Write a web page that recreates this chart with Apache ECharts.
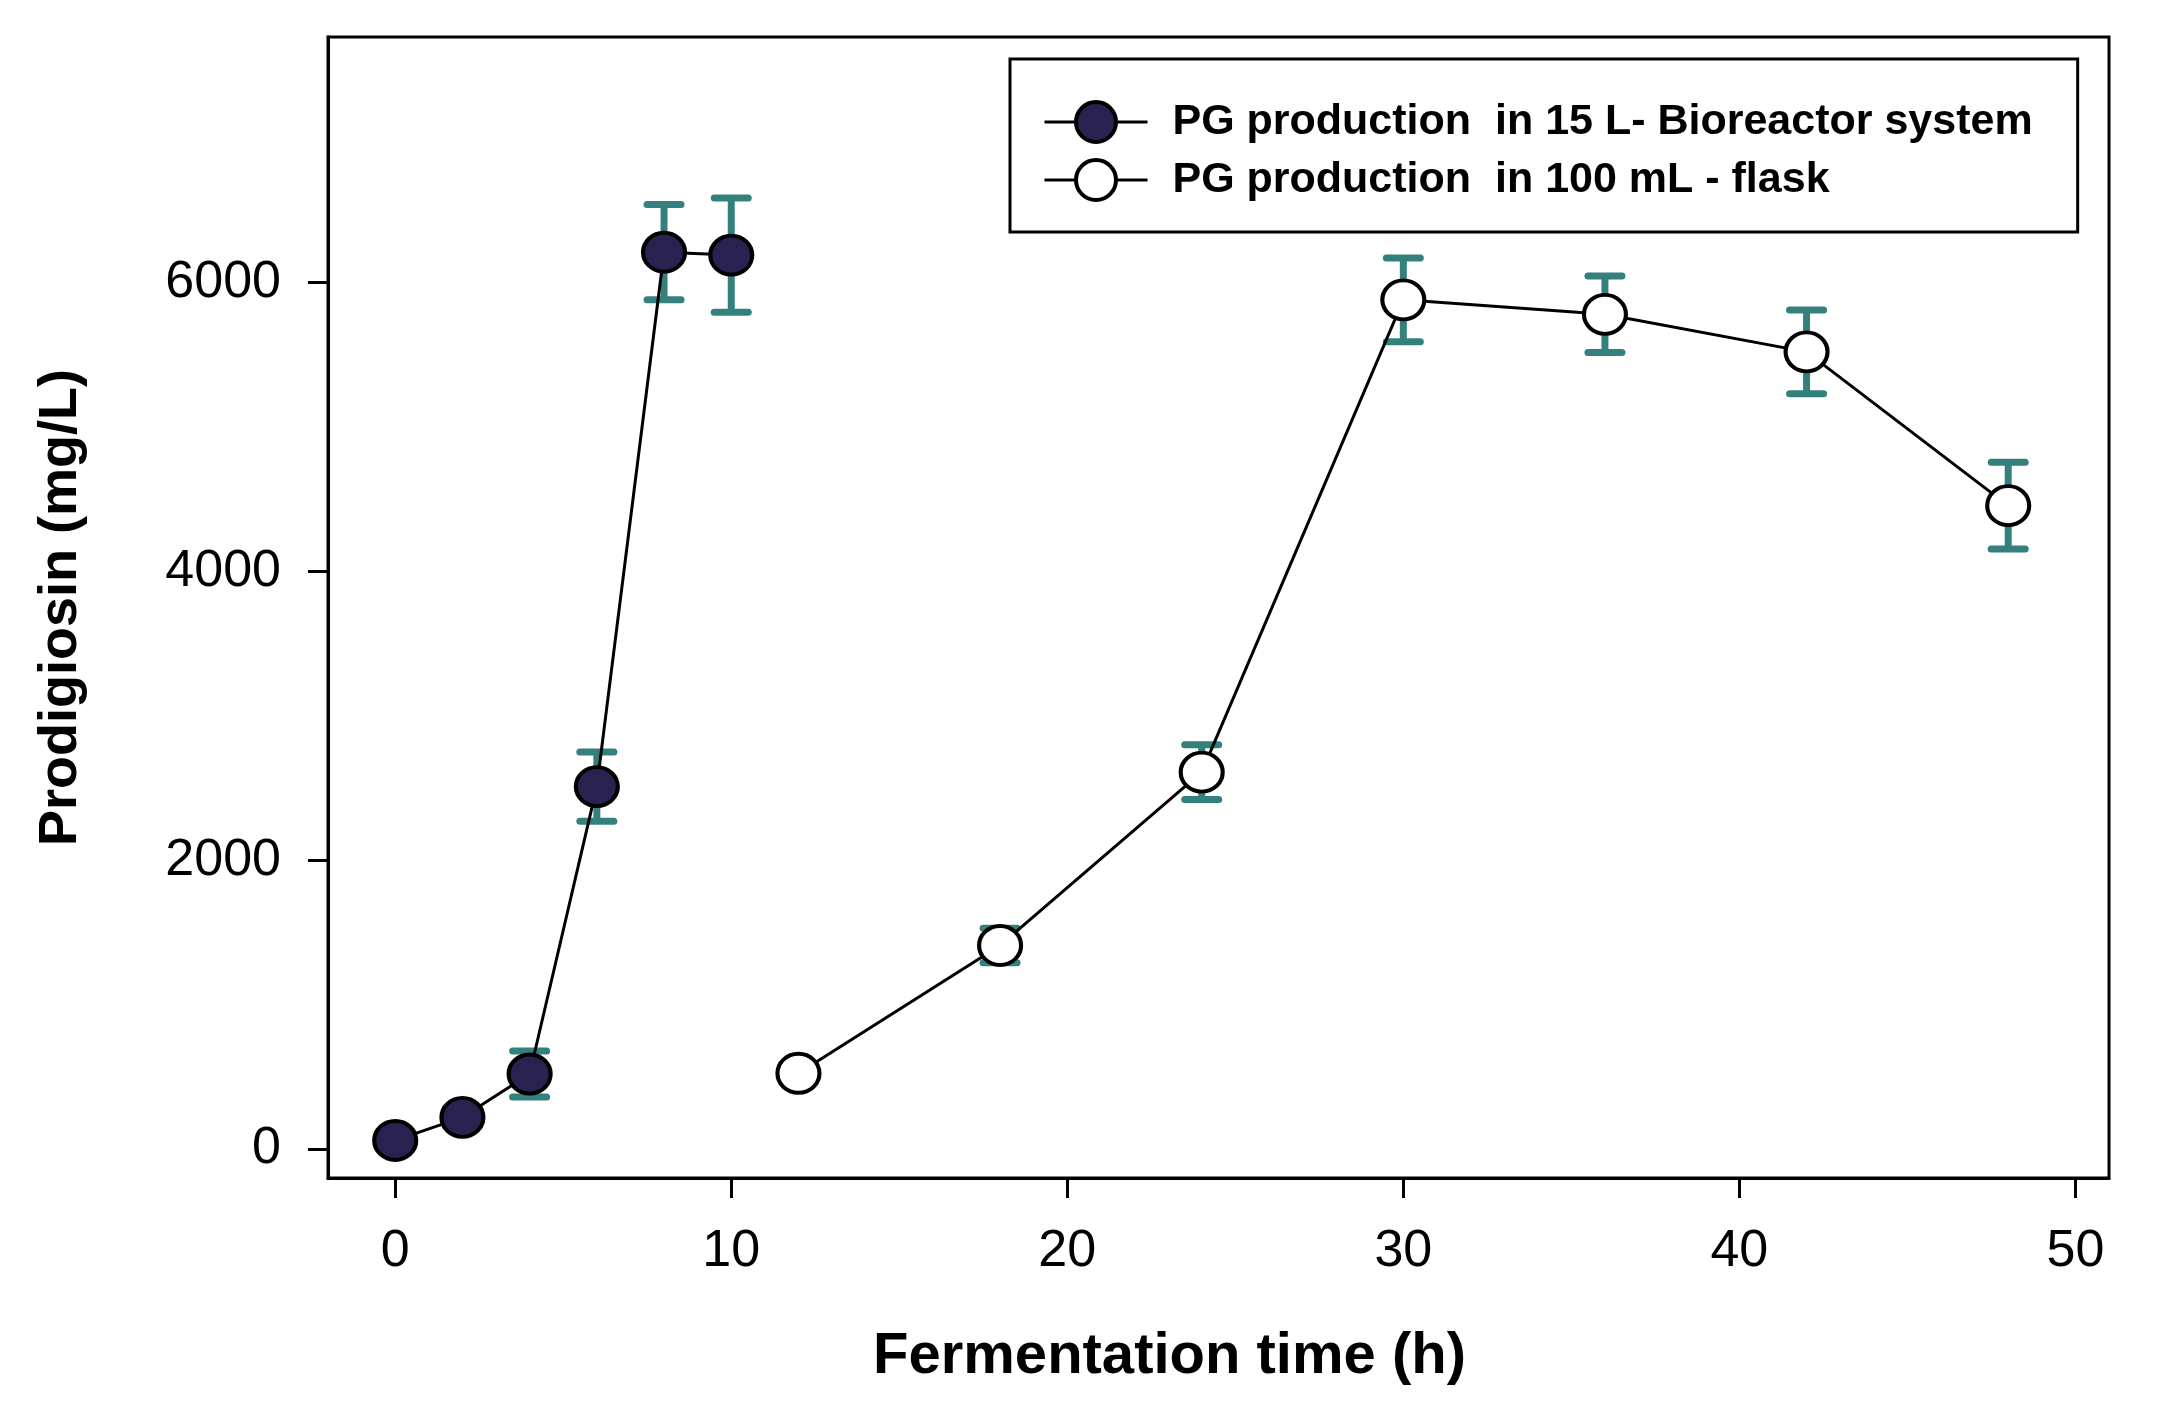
<!DOCTYPE html>
<html>
<head>
<meta charset="utf-8">
<script src="https://cdn.jsdelivr.net/npm/echarts@6/dist/echarts.min.js"></script>
<style>
  html, body { margin: 0; padding: 0; background: #fff; }
  #chart { width: 2160px; height: 1412px; }
</style>
</head>
<body>
<div id="chart"></div>
<script>
// ---- data ----
const seriesNames = ['PG production  in 15 L- Bioreactor system', 'PG production  in 100 mL - flask'];
const xBio = [0, 2, 4, 6, 8, 10];
const yBio = [60, 220, 520, 2510, 6210, 6190];
const errBio = [30, 60, 160, 240, 330, 395];
const xFlask = [12, 18, 24, 30, 36, 42, 48];
const yFlask = [525, 1410, 2610, 5880, 5780, 5520, 4455];
const errFlask = [60, 120, 190, 290, 265, 290, 300];
const xTicks = [0, 10, 20, 30, 40, 50];
const yTicks = [0, 2000, 4000, 6000];
const xTitle = 'Fermentation time (h)';
const yTitle = 'Prodigiosin (mg/L)';

// ---- styles ----
const FONT = "'Liberation Sans', Arial, sans-serif";
const ERR_COLOR = '#34807d';
const BIO_FILL = '#29214f';
const ELLIPSE = 'path://M0,1A1,1,0,1,1,2,1A1,1,0,1,1,0,1Z';

const toPairs = (xs, ys) => xs.map((x, i) => [x, ys[i]]);
const toErr = (xs, ys, es) => xs.map((x, i) => [x, ys[i] - es[i], ys[i] + es[i]]);

function renderErr(params, api) {
  const x = api.value(0), lo = api.value(1), hi = api.value(2);
  const pHi = api.coord([x, hi]);
  const pLo = api.coord([x, lo]);
  const hw = 17;
  const stemStyle = { stroke: ERR_COLOR, lineWidth: 7, lineCap: 'butt' };
  const capStyle = { stroke: ERR_COLOR, lineWidth: 7, lineCap: 'round' };
  return {
    type: 'group',
    children: [
      { type: 'line', shape: { x1: pHi[0], y1: pHi[1], x2: pLo[0], y2: pLo[1] }, style: stemStyle },
      { type: 'line', shape: { x1: pHi[0] - hw, y1: pHi[1], x2: pHi[0] + hw, y2: pHi[1] }, style: capStyle },
      { type: 'line', shape: { x1: pLo[0] - hw, y1: pLo[1], x2: pLo[0] + hw, y2: pLo[1] }, style: capStyle }
    ]
  };
}

const chart = echarts.init(document.getElementById('chart'), null, { renderer: 'canvas' });
chart.setOption({
  animation: false,
  backgroundColor: '#fff',
  textStyle: { fontFamily: FONT, color: '#000' },
  grid: {
    left: 328, right: 51, top: 37, bottom: 234,
    show: true, borderColor: '#000', borderWidth: 3, backgroundColor: 'transparent'
  },
  legend: {
    data: seriesNames,
    orient: 'vertical',
    left: 1010, top: 59,
    padding: [41, 45, 30, 33],
    itemWidth: 103, itemHeight: 50, itemGap: 14,
    borderColor: '#000', borderWidth: 3, backgroundColor: '#fff',
    lineStyle: { width: 3, color: '#000' },
    itemStyle: { borderColor: '#000', borderWidth: 4 },
    textStyle: { fontFamily: FONT, fontSize: 43, fontWeight: 'bold', color: '#000', padding: [0, 0, 0, 20] }
  },
  xAxis: {
    type: 'value', min: -2, max: 51,
    name: xTitle, nameLocation: 'middle', nameGap: 150,
    nameTextStyle: { fontFamily: FONT, fontSize: 58, fontWeight: 'bold', color: '#000', padding: [0, 98, 0, 0] },
    axisLine: { show: true, onZero: false, lineStyle: { color: '#000', width: 3 } },
    axisTick: { show: true, inside: false, length: 20, lineStyle: { color: '#000', width: 3 }, customValues: xTicks },
    axisLabel: { show: true, margin: 48, fontFamily: FONT, fontSize: 52, color: '#000', customValues: xTicks,
      formatter: v => String(v) },
    splitLine: { show: false }
  },
  yAxis: {
    type: 'value', min: -200, max: 7700,
    name: yTitle, nameLocation: 'middle', nameGap: 240,
    nameTextStyle: { fontFamily: FONT, fontSize: 54, fontWeight: 'bold', color: '#000' },
    axisLine: { show: true, onZero: false, lineStyle: { color: '#000', width: 3 } },
    axisTick: { show: true, inside: false, length: 20, lineStyle: { color: '#000', width: 3 }, customValues: yTicks },
    axisLabel: { show: true, margin: 47, fontFamily: FONT, fontSize: 52, color: '#000', customValues: yTicks,
      formatter: v => String(v) },
    splitLine: { show: false }
  },
  series: [
    {
      name: 'errBio', type: 'custom', renderItem: renderErr, z: 1,
      data: toErr(xBio, yBio, errBio), encode: { x: 0, y: [1, 2] }, silent: true
    },
    {
      name: 'errFlask', type: 'custom', renderItem: renderErr, z: 1,
      data: toErr(xFlask, yFlask, errFlask), encode: { x: 0, y: [1, 2] }, silent: true
    },
    {
      name: seriesNames[0], type: 'line', z: 3,
      data: toPairs(xBio, yBio),
      symbol: ELLIPSE, symbolSize: [42, 39],
      lineStyle: { color: '#000', width: 3 },
      itemStyle: { color: BIO_FILL, borderColor: '#000', borderWidth: 4 }
    },
    {
      name: seriesNames[1], type: 'line', z: 3,
      data: toPairs(xFlask, yFlask),
      symbol: ELLIPSE, symbolSize: [42, 39],
      lineStyle: { color: '#000', width: 3 },
      itemStyle: { color: '#fff', borderColor: '#000', borderWidth: 4 }
    }
  ]
});
</script>
</body>
</html>
